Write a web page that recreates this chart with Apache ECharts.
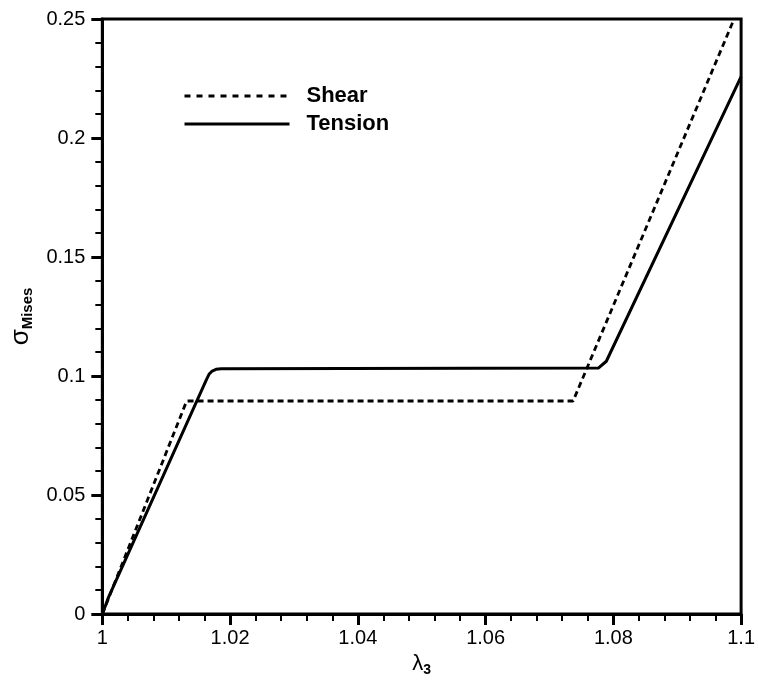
<!DOCTYPE html>
<html>
<head>
<meta charset="utf-8">
<script src="https://cdn.jsdelivr.net/npm/echarts@6/dist/echarts.min.js"></script>
<style>
  html, body { margin: 0; padding: 0; background: #fff; }
  #chart { width: 758px; height: 684px; }
</style>
</head>
<body>
<div id="chart"></div>
<script>
// Stretch ratio lambda_3 vs. von Mises stress for two loading modes
const seriesNames = ['Shear', 'Tension'];

const shearLambda = [1.0, 1.0132, 1.0737, 1.0989];
const shearStress = [0.0, 0.0895, 0.0895, 0.25];

const tensionLambda = [1.0, 1.001, 1.0163, 1.0167, 1.0172, 1.0178, 1.0186, 1.0777, 1.0789, 1.1];
const tensionStress = [0.0, 0.0072, 0.0985, 0.1007, 0.1021, 0.1028, 0.1030, 0.1034, 0.1062, 0.2258];

const xTicks = [1, 1.02, 1.04, 1.06, 1.08, 1.1];
const yTicks = [0, 0.05, 0.1, 0.15, 0.2, 0.25];

const pairs = (xs, ys) => xs.map((x, i) => [x, ys[i]]);
const fmt = v => String(parseFloat(Number(v).toFixed(3)));

const FONT = '"Liberation Sans", Arial, sans-serif';

const chart = echarts.init(document.getElementById('chart'), null, { renderer: 'canvas' });

chart.setOption({
  backgroundColor: '#ffffff',
  animation: false,
  color: ['#000', '#000'],
  grid: {
    left: 102, right: 16, top: 19, bottom: 70,
    show: true, borderColor: '#000', borderWidth: 3, backgroundColor: 'transparent'
  },
  legend: {
    orient: 'vertical',
    left: 178, top: 80,
    itemWidth: 105, itemHeight: 14, itemGap: 6,
    itemStyle: { opacity: 0 },
    textStyle: {
      fontFamily: FONT, fontSize: 22, fontWeight: 'bold', color: '#000',
      padding: [0, 0, 0, 12]
    },
    data: [
      { name: seriesNames[0], lineStyle: { color: '#000', width: 3, type: [6, 6] } },
      { name: seriesNames[1], lineStyle: { color: '#000', width: 3, type: 'solid' } }
    ]
  },
  xAxis: {
    type: 'value',
    min: xTicks[0], max: xTicks[xTicks.length - 1], interval: 0.02,
    name: '{l|λ}{s|3}',
    nameLocation: 'middle', nameGap: 32,
    nameTextStyle: {
      rich: {
        l: { fontFamily: FONT, fontSize: 22, color: '#000' },
        s: { fontFamily: FONT, fontSize: 14, fontWeight: 'bold', color: '#000', padding: [12, 0, 0, 0] }
      }
    },
    axisLine: { show: true, lineStyle: { color: '#000', width: 3 } },
    axisTick: { show: true, inside: false, length: 11, lineStyle: { color: '#000', width: 3 } },
    minorTick: { show: true, splitNumber: 5, length: 7, lineStyle: { color: '#000', width: 2 } },
    splitLine: { show: false },
    axisLabel: {
      margin: 14, fontFamily: FONT, fontSize: 20, color: '#000',
      formatter: v => fmt(v)
    }
  },
  yAxis: {
    type: 'value',
    min: yTicks[0], max: yTicks[yTicks.length - 1], interval: 0.05,
    name: '{g|σ}{s|Mises}',
    nameLocation: 'middle', nameGap: 63, nameRotate: 90,
    nameTextStyle: {
      rich: {
        g: { fontFamily: FONT, fontSize: 26, color: '#000' },
        s: { fontFamily: FONT, fontSize: 15, fontWeight: 'bold', color: '#000', padding: [14, 0, 0, 0] }
      }
    },
    axisLine: { show: true, lineStyle: { color: '#000', width: 3 } },
    axisTick: { show: true, inside: false, length: 11, lineStyle: { color: '#000', width: 3 } },
    minorTick: { show: true, splitNumber: 5, length: 7, lineStyle: { color: '#000', width: 2 } },
    splitLine: { show: false },
    axisLabel: {
      margin: 17, fontFamily: FONT, fontSize: 20, color: '#000',
      formatter: v => fmt(v)
    }
  },
  series: [
    {
      name: seriesNames[0],
      type: 'line',
      data: pairs(shearLambda, shearStress),
      symbol: 'none',
      clip: true,
      itemStyle: { color: '#000' },
      lineStyle: { color: '#000', width: 2.8, type: [6, 4] }
    },
    {
      name: seriesNames[1],
      type: 'line',
      data: pairs(tensionLambda, tensionStress),
      symbol: 'none',
      clip: true,
      itemStyle: { color: '#000' },
      lineStyle: { color: '#000', width: 3, type: 'solid' }
    }
  ]
});
</script>
</body>
</html>
